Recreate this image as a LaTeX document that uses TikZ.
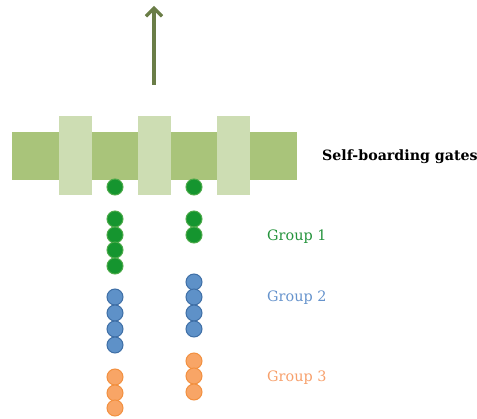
\documentclass[tikz,border=0pt]{standalone}
\usepackage{fontspec}
\setmainfont{DejaVu Serif}
\usetikzlibrary{arrows.meta}
\definecolor{bargreen}{HTML}{A9C47A}
\definecolor{gatelight}{HTML}{CDDDB3}
\definecolor{arrowolive}{HTML}{6A7D47}
\definecolor{paxgreen}{HTML}{15952F}
\definecolor{paxgreenrim}{HTML}{4DAA4A}
\definecolor{paxblue}{HTML}{5E91C8}
\definecolor{paxbluerim}{HTML}{3F6FA6}
\definecolor{paxorange}{HTML}{F8A566}
\definecolor{paxorangerim}{HTML}{F29040}
\definecolor{labgreen}{HTML}{24933C}
\definecolor{labblue}{HTML}{6693CC}
\definecolor{laborange}{HTML}{F7A06C}
\begin{document}
\begin{tikzpicture}[x=1pt,y=-1pt,
  pax/.style={circle,inner sep=0pt,minimum size=16pt,line width=1pt},
  g1/.style={pax,fill=paxgreen,draw=paxgreenrim},
  g2/.style={pax,fill=paxblue,draw=paxbluerim},
  g3/.style={pax,fill=paxorange,draw=paxorangerim},
  grouplabel/.style={anchor=west,inner sep=0pt,font=\fontsize{14.4}{16}\selectfont},
]
\useasboundingbox (0,0) rectangle (477,419);
% gate bar and gate posts
\fill[bargreen] (12,132) rectangle (297,180);
\foreach \gx in {59,138,217}
  \fill[gatelight] (\gx,116) rectangle (\gx+33,195);
% direction of travel
\coordinate (tail) at (154,85);
\coordinate (head) at (154,6);
\draw[arrowolive,line width=3.2pt,-{Straight Barb[length=8pt,width=16pt,line width=3.2pt]}] (tail) -- (head);
% label of the gates
\node[anchor=west,inner sep=0pt,font=\bfseries\fontsize{14.2}{16}\selectfont] (gates) at (322,157) {Self-boarding gates};
% queue left of the middle gate
\foreach \y [count=\i] in {187,219,235,250,266}
  \node[g1] (a\i) at (115,\y) {};
\foreach \y [count=\i] in {297,313,329,345}
  \node[g2] (b\i) at (115,\y) {};
\foreach \y [count=\i] in {377,393,408}
  \node[g3] (c\i) at (115,\y) {};
% queue right of the middle gate
\foreach \y [count=\i] in {187,219,235}
  \node[g1] (d\i) at (194,\y) {};
\foreach \y [count=\i] in {282,297,313,329}
  \node[g2] (e\i) at (194,\y) {};
\foreach \y [count=\i] in {361,376,392}
  \node[g3] (f\i) at (194,\y) {};
% group labels
\node[grouplabel,text=labgreen] (l1) at (267,237) {Group 1};
\node[grouplabel,text=labblue] (l2) at (267,298) {Group 2};
\node[grouplabel,text=laborange] (l3) at (267,378) {Group 3};
\end{tikzpicture}
\end{document}
